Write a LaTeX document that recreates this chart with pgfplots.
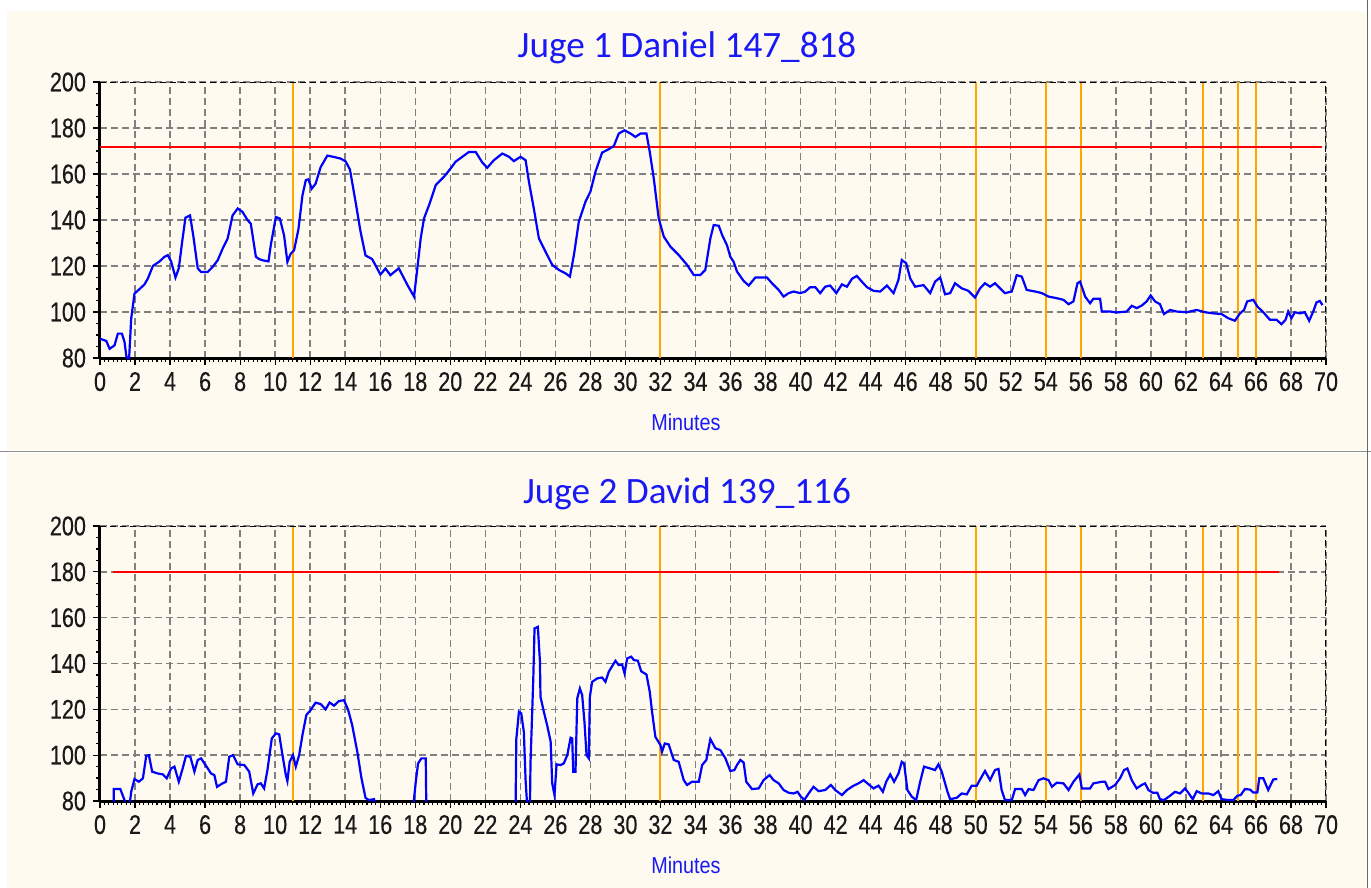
\documentclass[border=0pt]{standalone}
\usepackage{fontspec}
\setmainfont{Liberation Sans}
\newfontfamily\tickfont[FakeStretch=0.8, FakeBold=0.35]{Liberation Sans}
\newfontfamily\labfont[FakeStretch=0.86]{Liberation Sans}
\newfontfamily\titlefont{Carlito}
\usepackage{pgfplots}
\pgfplotsset{compat=1.18}
\definecolor{cream}{RGB}{254,250,239}
\definecolor{hrblue}{RGB}{0,0,255}
\definecolor{limred}{RGB}{255,0,0}
\definecolor{lap}{RGB}{255,165,0}
\definecolor{ttl}{RGB}{25,25,245}

\pgfplotsset{hrstyle/.style={
  scale only axis, width=613pt, anchor=south west,
  xmin=0, xmax=70, ymin=80, ymax=200,
  xtick={0,2,...,70}, ytick={80,100,...,200},
  minor x tick num=7, minor y tick num=3,
  axis x line*=bottom, axis y line*=left,
  axis line style={black, line width=1.5pt},
  tick align=outside, major tick length=3.5pt, minor tick length=2pt,
  tick style={black, line width=0.6pt},
  grid=major,
  major grid style={black!50, line width=0.7pt, dash pattern=on 3.5pt off 2pt},
  /pgf/number format/assume math mode=true,
  ticklabel style={font=\tickfont\fontsize{13.5}{15}\selectfont, text=black!90},
}}

\begin{document}
\begin{tikzpicture}
\useasboundingbox (0,0) rectangle (685.5pt,-444pt);
\fill[white] (0,0) rectangle (685.5pt,-444pt);
\fill[cream] (3.5pt,-5.5pt) rectangle (683pt,-225pt);
\fill[cream] (3.5pt,-226.5pt) rectangle (683pt,-444pt);
\draw[black!45, line width=0.8pt] (0,-225.7pt) -- (685.5pt,-225.7pt);
\draw[black!60, line width=0.6pt] (683.6pt,0) -- (683.6pt,-444pt);

% ---------- Juge 1 ----------
\begin{axis}[hrstyle, height=138pt, at={(50pt,-179pt)}]
\addplot[lap, line width=1pt, ycomb] coordinates {(11,200) (32,200) (50,200) (54,200) (56,200) (63,200) (65,200) (66,200)};
\addplot[limred, line width=1pt] coordinates {(0,171.6) (69.8,171.6)};
\addplot[hrblue, line width=1.1pt] coordinates {
(0,88.4) (0.36,87.4) (0.55,84) (0.83,85.5) (1.02,90.6) (1.25,90.6) (1.4,87) (1.5,81) (1.65,78) (1.78,97)
(1.97,108) (2.26,110) (2.54,112) (2.73,114.5) (3.02,120) (3.4,122) (3.68,124) (3.87,124.7) (4.06,122) (4.31,115)
(4.5,119) (4.69,130.5) (4.88,141) (5.14,142) (5.33,133) (5.58,119) (5.77,117.4) (6.15,117.4) (6.43,119.6) (6.72,122.5)
(7.0,127.5) (7.29,132) (7.57,142) (7.86,145) (8.14,143.5) (8.42,140) (8.61,138.4) (8.9,124) (9.09,123) (9.28,122.5)
(9.62,122) (9.75,129) (10.04,141.3) (10.27,140.6) (10.51,133.3) (10.7,121.8) (10.89,125.4) (11.08,126.8) (11.33,136) (11.56,150.7)
(11.75,157.3) (11.9,157.7) (12.09,153.6) (12.31,155.8) (12.6,163) (12.98,168) (13.36,167.4) (13.74,166.7) (14.02,165.5) (14.27,162)
(14.59,148) (14.88,134.8) (15.16,124.6) (15.54,123) (15.73,120.3) (16.01,116.3) (16.3,118.9) (16.58,116) (17.06,119) (17.55,111.8)
(17.93,106.7) (18.12,119) (18.31,132) (18.5,140.7) (18.79,146.5) (19.17,155.2) (19.64,158.8) (20.02,162.4) (20.3,165.3) (20.69,167.5)
(21.07,169.6) (21.45,169.6) (21.83,165) (22.11,162.7) (22.49,166) (22.97,168.9) (23.35,167.5) (23.63,165.6) (24.01,167.5) (24.3,166)
(24.49,156.6) (24.77,145) (25.06,132) (25.44,126.2) (25.82,120.5) (26.2,118.3) (26.58,116.8) (26.83,115.4) (27.06,124.8) (27.34,139.3)
(27.72,148) (28.0,152.3) (28.29,161) (28.67,169.3) (29.05,170.8) (29.34,172.2) (29.62,177.6) (29.95,179) (30.29,177.6) (30.57,176.1)
(30.86,177.6) (31.2,177.6) (31.39,169.6) (31.62,158) (31.9,140.7) (32.19,132.8) (32.57,128.4) (33.04,124.8) (33.52,120.5) (33.9,116.1)
(34.28,116.1) (34.56,118.3) (34.85,132) (35.04,137.8) (35.33,137.5) (35.52,133.5) (35.8,129) (35.99,124) (36.18,121.8) (36.37,117.6)
(36.75,113.5) (37.04,111.5) (37.42,115) (38.08,115) (38.37,112.5) (38.75,109.6) (39.03,106.7) (39.32,108.2) (39.6,108.9) (39.98,108.2)
(40.27,108.9) (40.55,110.8) (40.84,110.8) (41.12,108.2) (41.41,111) (41.69,111.5) (42.04,108.2) (42.36,112) (42.65,111) (42.93,114.4)
(43.21,115.7) (43.5,113.2) (43.79,110.8) (44.17,109.2) (44.55,108.9) (44.93,111.5) (45.31,108.2) (45.59,114) (45.78,122.6) (46.03,121.2)
(46.26,114.6) (46.54,111) (47.02,111.7) (47.4,108.2) (47.68,113.2) (47.97,115) (48.25,107.7) (48.54,108.2) (48.82,112.5) (49.2,110.3)
(49.58,109.2) (49.96,106.3) (50.25,110.3) (50.53,112.5) (50.82,111) (51.1,112.5) (51.39,110.3) (51.67,108.2) (52.06,108.9) (52.34,116)
(52.63,115.4) (52.91,109.6) (53.4,108.9) (53.78,108.2) (54.16,106.7) (54.63,106) (55.01,105.3) (55.3,103.4) (55.58,104.6) (55.81,112.5)
(55.96,113.2) (56.25,106.7) (56.53,103.8) (56.72,105.8) (57.1,105.8) (57.2,100.2) (57.67,100.2) (58.05,99.8) (58.62,100.2) (58.91,102.7)
(59.19,101.7) (59.48,102.8) (59.76,104.6) (59.99,107.2) (60.24,104.6) (60.52,103.4) (60.75,99.1) (61.1,100.9) (61.47,100.2) (62.05,99.9)
(62.62,100.9) (63.09,99.9) (63.57,99.4) (64.04,99.1) (64.42,97.3) (64.8,96.2) (65.09,99.4) (65.32,100.9) (65.5,104.6) (65.85,105.3)
(66.08,102.4) (66.42,99.9) (66.8,96.6) (67.18,96.6) (67.46,94.7) (67.69,96.6) (67.84,100.2) (68.03,97.3) (68.22,99.9) (68.51,99.4)
(68.79,99.9) (69.04,96.2) (69.27,100.2) (69.46,104.2) (69.65,104.8) (69.8,103)
};
\draw[black, line width=0.75pt, dash pattern=on 3pt off 2pt] (rel axis cs:0,1) -- (rel axis cs:1,1) -- (rel axis cs:1,0);
\end{axis}
\node[font=\titlefont\fontsize{18.6}{20}\selectfont, text=ttl] at (343.5pt,-24pt) {Juge 1 Daniel 147\_818};
\node[font=\labfont\fontsize{11.5}{13}\selectfont, text=ttl] at (343pt,-211pt) {Minutes};

% ---------- Juge 2 ----------
\begin{axis}[hrstyle, height=137.5pt, at={(50pt,-400.5pt)}]
\addplot[lap, line width=1pt, ycomb] coordinates {(11,200) (32,200) (50,200) (54,200) (56,200) (63,200) (65,200) (66,200)};
\addplot[limred, line width=1pt] coordinates {(0.75,180) (67.3,180)};
\addplot[hrblue, line width=1.1pt] coordinates {
(0.78,78) (0.78,85.2) (1.16,85.2) (1.4,80.4) (1.45,78) (1.69,78) (1.78,84) (1.97,89.6) (2.22,88.4) (2.45,89.9)
(2.64,99.7) (2.79,100) (2.98,92.8) (3.3,92) (3.59,91.6) (3.81,89.9) (4.06,94.2) (4.25,95) (4.5,88.4) (4.72,94.2)
(4.91,99.7) (5.16,99.3) (5.39,92.8) (5.58,97.9) (5.77,98.6) (6.05,95.4) (6.34,92) (6.53,91.3) (6.68,86.2) (7.0,87.7)
(7.19,88.4) (7.38,99.3) (7.6,100) (7.86,96) (8.24,95.7) (8.52,92.8) (8.75,83.3) (9.0,87.3) (9.18,87.7) (9.37,85.5)
(9.56,93.5) (9.81,107.3) (10.04,109.5) (10.23,109.1) (10.42,100) (10.61,91.3) (10.7,88.7) (10.83,97.1) (11.02,100) (11.18,95)
(11.37,100) (11.56,108.8) (11.78,117.5) (12.03,119.7) (12.31,122.9) (12.6,122.3) (12.88,120) (13.11,123) (13.36,121.6) (13.64,123.6)
(13.93,124) (14.17,119.7) (14.4,113.1) (14.69,101.5) (14.93,89.9) (15.16,81.4) (15.35,80.4) (15.64,80.8) (15.77,78) (17.89,78)
(18.03,88.4) (18.16,96.4) (18.35,98.6) (18.6,98.6) (18.63,78) (23.73,78) (23.77,107) (23.92,119) (24.05,118.3) (24.2,110.2)
(24.3,89.1) (24.39,78) (24.55,78) (24.58,96.4) (24.74,133.5) (24.81,155.3) (25.0,156) (25.12,140.8) (25.15,125.5) (25.34,119)
(25.53,113.1) (25.73,105.9) (25.82,87.7) (25.95,82.6) (26.07,96) (26.3,95.7) (26.48,96.4) (26.68,100) (26.87,107.6) (26.96,107.3)
(27.02,92.8) (27.15,92.8) (27.25,124.8) (27.4,129.1) (27.53,126.2) (27.66,114.6) (27.78,100) (27.91,98.6) (27.97,125.5) (28.1,132)
(28.39,133.5) (28.67,133.9) (28.86,132) (29.05,136.4) (29.43,141.2) (29.62,139.3) (29.81,139.6) (29.95,135.7) (30.1,142.2) (30.33,143)
(30.48,141.5) (30.71,141.2) (30.9,136.6) (31.2,135.2) (31.39,127.6) (31.52,119) (31.71,108) (32.0,104.4) (32.09,101.5) (32.25,105.1)
(32.47,104.7) (32.76,97.9) (33.04,97.1) (33.33,89.1) (33.52,87) (33.8,88.4) (34.19,88.4) (34.38,95.7) (34.62,97.9) (34.85,107)
(35.14,103) (35.42,102.2) (35.71,98.6) (35.99,93.1) (36.22,93.5) (36.37,95.7) (36.56,97.9) (36.75,96.8) (36.9,88.4) (37.23,85.2)
(37.61,85.5) (37.89,89.1) (38.23,91.3) (38.46,89.1) (38.75,87.7) (39.03,84.8) (39.32,83.6) (39.6,83.3) (39.83,84) (39.98,82.3)
(40.21,80.4) (40.46,83.3) (40.74,86.2) (41.03,84.3) (41.41,84.8) (41.73,87) (41.98,84.8) (42.36,82.6) (42.65,84.8) (43.03,86.7)
(43.31,87.7) (43.6,89.1) (43.88,87.3) (44.17,85.5) (44.45,86.7) (44.7,84) (44.89,88.4) (45.12,91.6) (45.34,88.4) (45.59,92)
(45.78,97.1) (45.91,96.4) (46.1,84.8) (46.35,81.9) (46.6,80.4) (46.83,88.4) (47.05,95) (47.4,94.2) (47.68,93.5) (47.87,96)
(48.06,92.8) (48.39,84) (48.54,80.8) (48.92,81.4) (49.2,83.3) (49.49,82.9) (49.77,86.7) (50.06,86.7) (50.29,89.9) (50.53,93.1)
(50.82,89.1) (51.1,93.5) (51.3,94) (51.48,84.8) (51.67,80.4) (52.06,80.4) (52.25,85.2) (52.63,85.2) (52.82,82.6) (53.02,85.2)
(53.3,84.8) (53.59,89.1) (53.87,89.9) (54.16,89.1) (54.35,86.2) (54.63,88) (55.01,87.7) (55.3,84.8) (55.58,88.4) (55.92,91.6)
(56.06,85.5) (56.53,85.5) (56.72,87.7) (57.2,88.4) (57.39,88.4) (57.58,85.2) (57.96,87) (58.24,89.9) (58.47,93.5) (58.66,94.2)
(58.91,89.1) (59.19,85.5) (59.48,87) (59.67,87.7) (59.86,84.8) (60.11,83.6) (60.37,83.6) (60.52,80.8) (60.75,80.4) (61.1,82.3)
(61.38,84) (61.67,83.3) (61.95,85.5) (62.14,83.6) (62.39,80.8) (62.62,84.3) (62.9,83.3) (63.28,83.3) (63.57,82.6) (63.85,84.3)
(64.04,80.8) (64.42,80.4) (64.71,80.4) (64.94,82.3) (65.13,82.6) (65.37,85.2) (65.66,85) (65.85,83.7) (66.08,83.7) (66.19,89.9)
(66.42,89.9) (66.7,84.8) (66.99,89.4) (67.22,89.6)
};
\draw[black, line width=0.75pt, dash pattern=on 3pt off 2pt] (rel axis cs:0,1) -- (rel axis cs:1,1) -- (rel axis cs:1,0);
\end{axis}
\node[font=\titlefont\fontsize{18.6}{20}\selectfont, text=ttl] at (343.5pt,-247pt) {Juge 2 David 139\_116};
\node[font=\labfont\fontsize{11.5}{13}\selectfont, text=ttl] at (343pt,-432.5pt) {Minutes};
\end{tikzpicture}
\end{document}
